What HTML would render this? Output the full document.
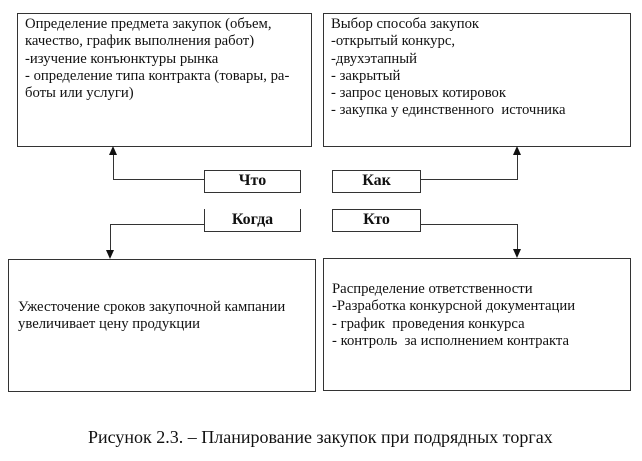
<!DOCTYPE html>
<html><head><meta charset="utf-8"><style>
body{margin:0;width:642px;height:461px;background:#fff;position:relative;overflow:hidden;font-family:"Liberation Serif",serif;color:#111}
.b{position:absolute;border:1.5px solid #333;box-sizing:border-box}
.t{position:absolute;font-size:14.7px;line-height:17.3px;white-space:nowrap}
.l{position:absolute;font-weight:bold;font-size:16px;text-align:center;line-height:20px}
.h{position:absolute;height:0;border-top:1.5px solid #333}
.v{position:absolute;width:0;border-left:1.5px solid #333}
.au{position:absolute;width:0;height:0;border-left:4px solid transparent;border-right:4px solid transparent;border-bottom:9px solid #111}
.ad{position:absolute;width:0;height:0;border-left:4px solid transparent;border-right:4px solid transparent;border-top:9px solid #111}
</style></head><body>
<div class="b" style="left:17px;top:13px;width:295px;height:134px"></div>
<div class="b" style="left:323px;top:13px;width:308px;height:134px"></div>
<div class="b" style="left:8px;top:259px;width:308px;height:133px"></div>
<div class="b" style="left:323px;top:258px;width:308px;height:133px"></div>
<div class="t" style="left:25px;top:16px">Определение предмета закупок (объем,<br>качество, график выполнения работ)<br>-изучение конъюнктуры рынка<br>- определение типа контракта (товары, ра-<br>боты или услуги)</div>
<div class="t" style="left:331px;top:16px">Выбор способа закупок<br>-открытый конкурс,<br>-двухэтапный<br>- закрытый<br>- запрос ценовых котировок<br>- закупка у единственного&nbsp; источника</div>
<div class="t" style="left:18px;top:299px">Ужесточение сроков закупочной кампании<br>увеличивает цену продукции</div>
<div class="t" style="left:332px;top:281px">Распределение ответственности<br>-Разработка конкурсной документации<br>- график&nbsp; проведения конкурса<br>- контроль&nbsp; за исполнением контракта</div>
<div class="b" style="left:204px;top:170px;width:97px;height:23px"></div>
<div class="l" style="left:204px;top:171px;width:97px">Что</div>
<div class="b" style="left:332px;top:170px;width:89px;height:23px"></div>
<div class="l" style="left:332px;top:171px;width:89px">Как</div>
<div class="b" style="left:204px;top:209px;width:97px;height:23px;border-top:none"></div>
<div class="l" style="left:204px;top:210px;width:97px">Когда</div>
<div class="b" style="left:332px;top:209px;width:89px;height:23px"></div>
<div class="l" style="left:332px;top:210px;width:89px">Кто</div>
<div class="h" style="left:113px;top:179px;width:91px"></div>
<div class="v" style="left:113px;top:152px;height:28px"></div>
<div class="au" style="left:109px;top:146px"></div>
<div class="h" style="left:421px;top:179px;width:97px"></div>
<div class="v" style="left:517px;top:152px;height:28px"></div>
<div class="au" style="left:513px;top:146px"></div>
<div class="h" style="left:110px;top:224px;width:94px"></div>
<div class="v" style="left:110px;top:224px;height:28px"></div>
<div class="ad" style="left:106px;top:250px"></div>
<div class="h" style="left:421px;top:224px;width:97px"></div>
<div class="v" style="left:517px;top:224px;height:27px"></div>
<div class="ad" style="left:513px;top:249px"></div>
<div style="position:absolute;left:88px;top:427px;font-size:18px;white-space:nowrap">Рисунок 2.3. – Планирование закупок при подрядных торгах</div>
</body></html>
